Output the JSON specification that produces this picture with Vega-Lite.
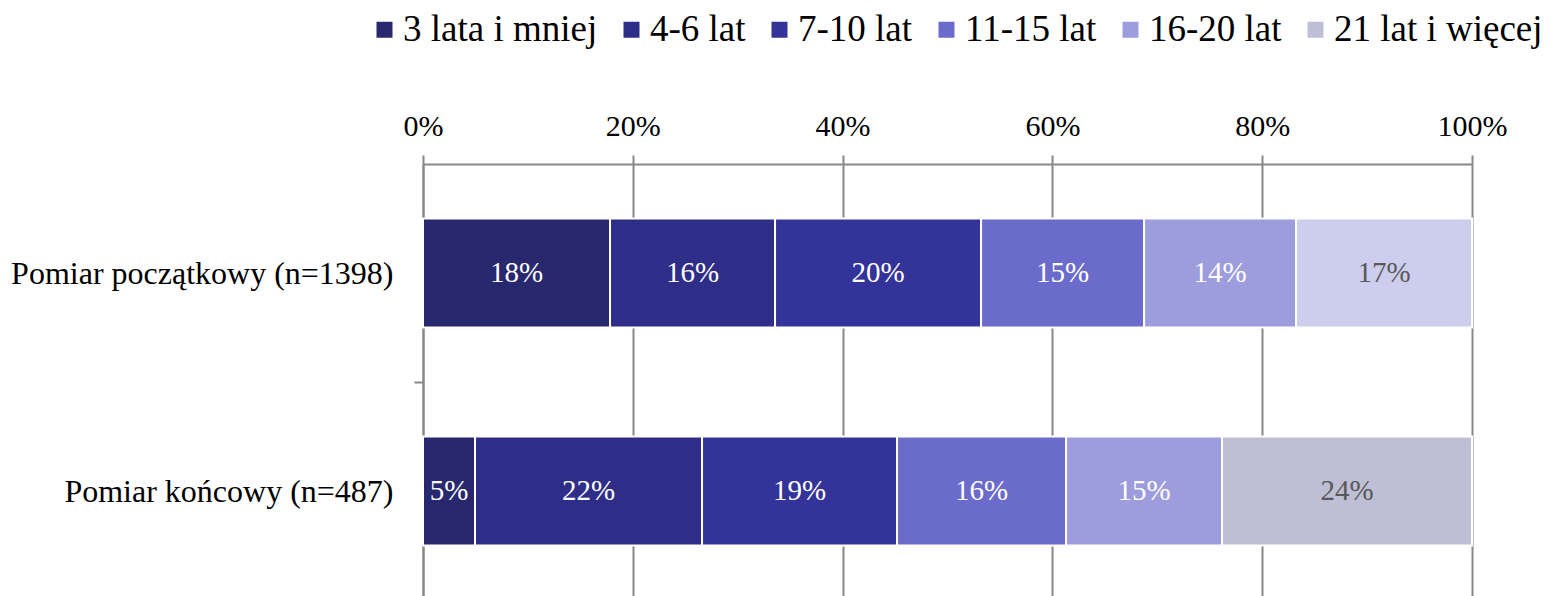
{
  "$schema": "https://vega.github.io/schema/vega-lite/v6.json",
  "autosize": "none",
  "width": 1049,
  "height": 436,
  "padding": {"left": 423, "top": 164, "right": 78, "bottom": 0},
  "background": "white",
  "config": {
    "font": "Liberation Serif",
    "view": {"stroke": null},
    "axis": {"labelFont": "Liberation Serif", "labelColor": "#000000"},
    "legend": {"labelFont": "Liberation Serif"}
  },
  "data": {
    "values": [
      {"pomiar": "Pomiar początkowy (n=1398)", "kat": "3 lata i mniej", "idx": 1, "value": 17.83, "label": "18%"},
      {"pomiar": "Pomiar początkowy (n=1398)", "kat": "4-6 lat", "idx": 2, "value": 15.73, "label": "16%"},
      {"pomiar": "Pomiar początkowy (n=1398)", "kat": "7-10 lat", "idx": 3, "value": 19.64, "label": "20%"},
      {"pomiar": "Pomiar początkowy (n=1398)", "kat": "11-15 lat", "idx": 4, "value": 15.54, "label": "15%"},
      {"pomiar": "Pomiar początkowy (n=1398)", "kat": "16-20 lat", "idx": 5, "value": 14.49, "label": "14%"},
      {"pomiar": "Pomiar początkowy (n=1398)", "kat": "21 lat i więcej", "idx": 6, "value": 16.77, "label": "17%"},
      {"pomiar": "Pomiar końcowy (n=487)", "kat": "3 lata i mniej", "idx": 1, "value": 4.96, "label": "5%"},
      {"pomiar": "Pomiar końcowy (n=487)", "kat": "4-6 lat", "idx": 2, "value": 21.64, "label": "22%"},
      {"pomiar": "Pomiar końcowy (n=487)", "kat": "7-10 lat", "idx": 3, "value": 18.59, "label": "19%"},
      {"pomiar": "Pomiar końcowy (n=487)", "kat": "11-15 lat", "idx": 4, "value": 16.11, "label": "16%"},
      {"pomiar": "Pomiar końcowy (n=487)", "kat": "16-20 lat", "idx": 5, "value": 14.87, "label": "15%"},
      {"pomiar": "Pomiar końcowy (n=487)", "kat": "21 lat i więcej", "idx": 6, "value": 23.83, "label": "24%"}
    ]
  },
  "encoding": {
    "y": {
      "field": "pomiar",
      "type": "nominal",
      "sort": ["Pomiar początkowy (n=1398)", "Pomiar końcowy (n=487)"],
      "scale": {"paddingInner": 0.5, "paddingOuter": 0.25},
      "axis": {
        "title": null,
        "orient": "left",
        "tickOffset": 109,
        "labelOffset": -109,
        "tickSize": 9,
        "tickWidth": 2,
        "tickColor": "#878787",
        "domainColor": "#878787",
        "domainWidth": 2,
        "labelPadding": 21,
        "labelFontSize": 32,
        "labelLimit": 0,
        "grid": false
      }
    }
  },
  "layer": [
    {
      "mark": {"type": "bar", "stroke": "white", "strokeWidth": 2},
      "encoding": {
        "x": {
          "field": "value",
          "type": "quantitative",
          "stack": "zero",
          "scale": {"domain": [0, 100], "nice": false},
          "axis": {
            "title": null,
            "orient": "top",
            "values": [0, 20, 40, 60, 80, 100],
            "labelExpr": "datum.value + '%'",
            "labelFontSize": 30,
            "labelFlush": false,
            "labelPadding": 14,
            "tickSize": 9,
            "tickWidth": 2,
            "tickColor": "#878787",
            "domainColor": "#878787",
            "domainWidth": 2,
            "grid": true,
            "gridColor": "#878787",
            "gridWidth": 2,
            "gridOpacity": 1
          }
        },
        "order": {"field": "idx", "type": "quantitative"},
        "color": {
          "field": "kat",
          "type": "nominal",
          "scale": {
            "domain": ["3 lata i mniej", "4-6 lat", "7-10 lat", "11-15 lat", "16-20 lat", "21 lat i więcej"],
            "range": ["#28286f", "#2e2e88", "#333399", "#6b6bcc", "#9d9ddd", "#bebed4"]
          },
          "condition": {
            "test": "datum.idx == 6 && datum.pomiar == 'Pomiar początkowy (n=1398)'",
            "value": "#cdcdee"
          },
          "legend": {
            "title": null,
            "orient": "none",
            "direction": "horizontal",
            "legendX": -57,
            "legendY": -153,
            "symbolType": "square",
            "symbolSize": 256,
            "symbolStrokeWidth": 0,
            "labelFontSize": 37,
            "labelColor": "#000000",
            "labelOffset": 0,
            "columnPadding": 15,
            "labelLimit": 0
          }
        }
      }
    },
    {
      "mark": {"type": "text", "fontSize": 29, "font": "Liberation Serif", "baseline": "middle", "align": "center"},
      "encoding": {
        "x": {"field": "value", "type": "quantitative", "stack": "zero", "bandPosition": 0.5},
        "order": {"field": "idx", "type": "quantitative"},
        "text": {"field": "label"},
        "color": {
          "condition": {"test": "datum.idx == 6", "value": "#595959"},
          "value": "#ffffff"
        }
      }
    }
  ]
}
